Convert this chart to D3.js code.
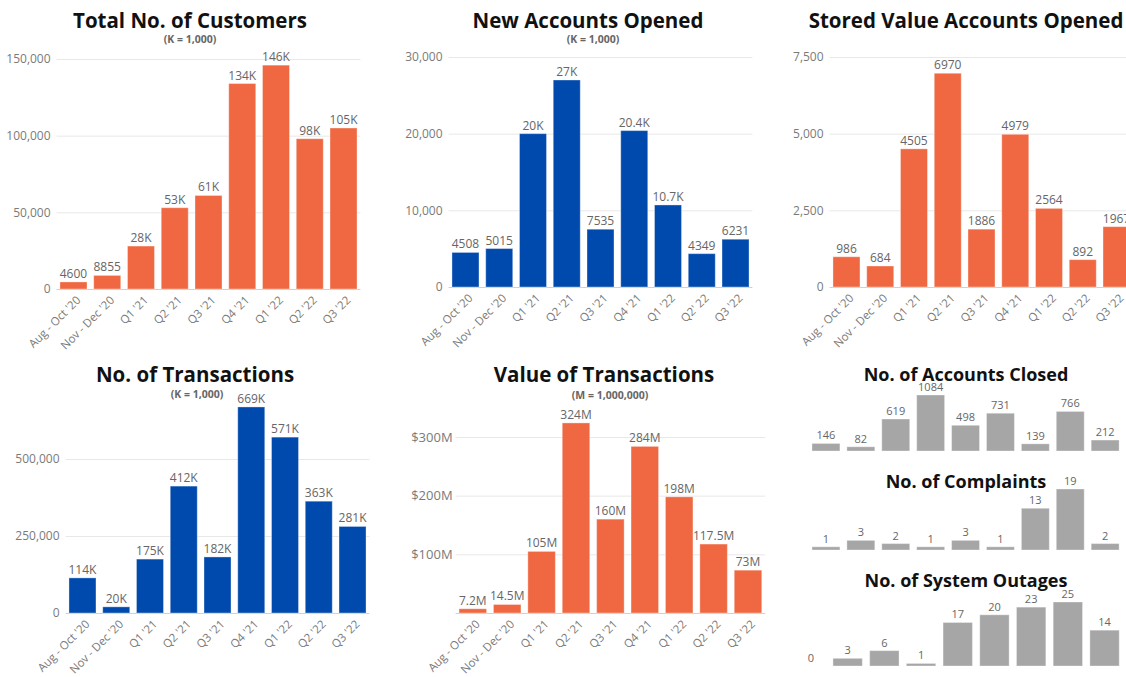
<!DOCTYPE html>
<html>
<head>
<meta charset="utf-8">
<script src="https://cdn.jsdelivr.net/npm/d3@7"></script>
<style>
  body { margin: 0; background: #fff; }
  svg { display: block; font-family: "Open Sans", sans-serif; }
</style>
</head>
<body>
<div id="chart"></div>
<script>
// Data
const periods = ["Aug - Oct '20", "Nov - Dec '20", "Q1 '21", "Q2 '21", "Q3 '21", "Q4 '21", "Q1 '22", "Q2 '22", "Q3 '22"];
const periodsAlt = ["Aug - Oct '20", "Nov - Dec '20", "Q1 '21", "Q2 '21", "Q3 '21", "Q4 '21", "Q1 '22", "Q2' 22", "Q3 '22"];

const customers = [4600, 8855, 28000, 53000, 61000, 134000, 146000, 98000, 105000];
const newAccounts = [4508, 5015, 20000, 27000, 7535, 20400, 10700, 4349, 6231];
const storedValue = [986, 684, 4505, 6970, 1886, 4979, 2564, 892, 1967];
const transactions = [114000, 20000, 175000, 412000, 182000, 669000, 571000, 363000, 281000];
const txValueM = [7.2, 14.5, 105, 324, 160, 284, 198, 117.5, 73];
const accountsClosed = [146, 82, 619, 1084, 498, 731, 139, 766, 212];
const complaints = [1, 3, 2, 1, 3, 1, 13, 19, 2];
const outages = [0, 3, 6, 1, 17, 20, 23, 25, 14];

const ORANGE = "#ef6842", BLUE = "#004aad", GREY = "#a6a6a6";

const svg = d3.select("#chart").append("svg")
    .attr("width", 1126)
    .attr("height", 677);

const kFmt = v => v < 10000 ? String(v) : d3.format(".3~s")(v).toUpperCase();

// Draw one bar chart panel
function drawPanel(opt) {
    const g = svg.append("g");
    const x = d3.scaleBand()
        .domain(opt.cats)
        .range(opt.xRange)
        .paddingInner(0.2)
        .paddingOuter(0.1);
    const y = d3.scaleLinear()
        .domain(opt.yDomain)
        .range(opt.yRange);

    // gridlines + y labels
    if (opt.ticks) {
        g.selectAll(".grid")
            .data(opt.ticks)
            .enter().append("line")
            .attr("x1", opt.xRange[0]).attr("x2", opt.xRange[1])
            .attr("y1", d => y(d) + 0.5).attr("y2", d => y(d) + 0.5)
            .attr("stroke", d => d === 0 ? "#d0d0d0" : "#e8e8e8");
        g.selectAll(".ytick")
            .data(opt.ticks.filter(t => !(opt.hideZero && t === 0)))
            .enter().append("text")
            .attr("x", opt.xRange[0] - opt.yLabelGap)
            .attr("y", d => y(d))
            .attr("dy", "0.35em")
            .attr("text-anchor", "end")
            .attr("fill", "#7a7a7a")
            .style("font-size", opt.yFont || "12px")
            .text(opt.tickFmt);
    }

    // bars
    g.selectAll(".bar")
        .data(opt.values)
        .enter().append("rect")
        .attr("x", (d, i) => x(opt.cats[i]))
        .attr("width", x.bandwidth())
        .attr("y", d => y(d))
        .attr("height", d => y(0) - y(d))
        .attr("fill", opt.color)
        .attr("stroke", "#ffffff")
        .attr("stroke-opacity", 0.35);

    // value labels
    g.selectAll(".val")
        .data(opt.values)
        .enter().append("text")
        .attr("x", (d, i) => x(opt.cats[i]) + x.bandwidth() / 2)
        .attr("y", d => y(d) - 4)
        .attr("text-anchor", "middle")
        .attr("fill", "#666")
        .style("font-size", opt.valFont || "12px")
        .text(opt.valFmt);

    // x labels
    if (opt.xLabels) {
        g.selectAll(".xlab")
            .data(opt.cats)
            .enter().append("text")
            .attr("transform", d => "translate(" + (x(d) + x.bandwidth() / 2 + 5) + "," + (y(0) + 9) + ")rotate(-45)")
            .attr("text-anchor", "end")
            .attr("dy", "0.35em")
            .attr("fill", "#7a7a7a")
            .style("font-size", "11.5px")
            .text(d => d);
    }

    // title
    g.append("text")
        .attr("x", opt.title[1]).attr("y", opt.title[2])
        .attr("text-anchor", "middle")
        .style("font-weight", 700)
        .style("font-size", opt.titleFont || "20.5px")
        .attr("fill", "#111")
        .text(opt.title[0]);
    if (opt.sub) {
        g.append("text")
            .attr("x", opt.sub[1]).attr("y", opt.sub[2])
            .attr("text-anchor", "middle")
            .style("font-weight", 700)
            .style("font-size", "10.5px")
            .attr("fill", "#666")
            .text(opt.sub[0]);
    }
}

drawPanel({
    cats: periods, values: customers, color: ORANGE,
    xRange: [56.6, 360.4], yDomain: [0, 150000], yRange: [289, 59],
    ticks: [0, 50000, 100000, 150000], tickFmt: d3.format(","), yLabelGap: 6,
    valFmt: v => v < 10000 ? String(v) : Math.round(v / 1000) + "K",
    xLabels: true,
    title: ["Total No. of Customers", 190, 28], sub: ["(K = 1,000)", 190, 43]
});

drawPanel({
    cats: periodsAlt, values: newAccounts, color: BLUE,
    xRange: [448.6, 752.4], yDomain: [0, 30000], yRange: [287, 57],
    ticks: [0, 10000, 20000, 30000], tickFmt: d3.format(","), yLabelGap: 6,
    valFmt: kFmt,
    xLabels: true,
    title: ["New Accounts Opened", 588, 28], sub: ["(K = 1,000)", 593, 43]
});

drawPanel({
    cats: periods, values: storedValue, color: ORANGE,
    xRange: [829.6, 1133.4], yDomain: [0, 7500], yRange: [287, 57],
    ticks: [0, 2500, 5000, 7500], tickFmt: d3.format(","), yLabelGap: 6,
    valFmt: v => String(v),
    xLabels: true,
    title: ["Stored Value Accounts Opened", 966, 28]
});

drawPanel({
    cats: periods, values: transactions, color: BLUE,
    xRange: [65.6, 369.4], yDomain: [0, 500000], yRange: [613, 459],
    ticks: [0, 250000, 500000], tickFmt: d3.format(","), yLabelGap: 6,
    valFmt: v => Math.round(v / 1000) + "K",
    xLabels: true,
    title: ["No. of Transactions", 195, 382], sub: ["(K = 1,000)", 197, 398]
});

drawPanel({
    cats: periods, values: txValueM, color: ORANGE,
    xRange: [455.6, 765.2], yDomain: [0, 300], yRange: [613, 437],
    ticks: [0, 100, 200, 300], tickFmt: d => "$" + d + "M", yLabelGap: 3, hideZero: true,
    yFont: "13px",
    valFmt: v => v + "M",
    xLabels: true,
    title: ["Value of Transactions", 604, 382], sub: ["(M = 1,000,000)", 610, 399]
});

drawPanel({
    cats: periods, values: accountsClosed, color: GREY,
    xRange: [808.5, 1122.6], yDomain: [0, 1084], yRange: [451, 395],
    valFmt: v => String(v), valFont: "11px",
    title: ["No. of Accounts Closed", 966, 381], titleFont: "18px"
});

drawPanel({
    cats: periods, values: complaints, color: GREY,
    xRange: [808.5, 1122.6], yDomain: [0, 19], yRange: [550, 489],
    valFmt: v => String(v), valFont: "11px",
    title: ["No. of Complaints", 966, 488], titleFont: "18px"
});

drawPanel({
    cats: periods, values: outages, color: GREY,
    xRange: [792.6, 1122.9], yDomain: [0, 25], yRange: [666, 602],
    valFmt: v => String(v), valFont: "11px",
    title: ["No. of System Outages", 966, 587], titleFont: "18px"
});
</script>
</body>
</html>
